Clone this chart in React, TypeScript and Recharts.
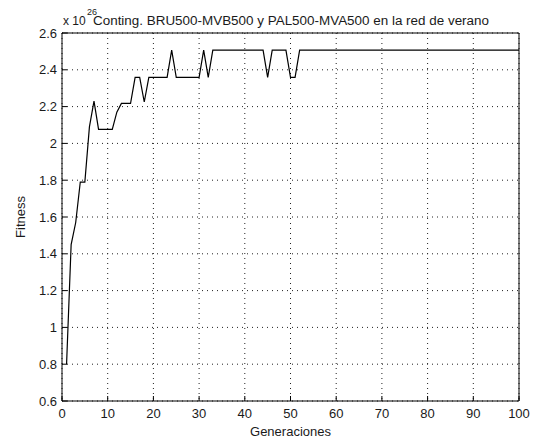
import React from 'react';
import { LineChart, Line, XAxis, YAxis, CartesianGrid } from 'recharts';

const generations = [
  1, 2, 3, 4, 5, 6, 7, 8, 9, 10,
  11, 12, 13, 14, 15, 16, 17, 18, 19, 20,
  21, 22, 23, 24, 25, 26, 27, 28, 29, 30,
  31, 32, 33, 34, 35, 36, 37, 38, 39, 40,
  41, 42, 43, 44, 45, 46, 47, 48, 49, 50,
  51, 52, 53, 54, 55, 56, 57, 58, 59, 60,
  61, 62, 63, 64, 65, 66, 67, 68, 69, 70,
  71, 72, 73, 74, 75, 76, 77, 78, 79, 80,
  81, 82, 83, 84, 85, 86, 87, 88, 89, 90,
  91, 92, 93, 94, 95, 96, 97, 98, 99, 100,
];

const fitness = [
  0.8, 1.45, 1.57, 1.79, 1.79, 2.09, 2.23, 2.076, 2.076, 2.076,
  2.076, 2.17, 2.217, 2.217, 2.217, 2.359, 2.359, 2.225, 2.359, 2.359,
  2.359, 2.359, 2.359, 2.507, 2.359, 2.359, 2.359, 2.359, 2.359, 2.359,
  2.507, 2.359, 2.507, 2.507, 2.507, 2.507, 2.507, 2.507, 2.507, 2.507,
  2.507, 2.507, 2.507, 2.507, 2.359, 2.507, 2.507, 2.507, 2.507, 2.359,
  2.359, 2.507, 2.507, 2.507, 2.507, 2.507, 2.507, 2.507, 2.507, 2.507,
  2.507, 2.507, 2.507, 2.507, 2.507, 2.507, 2.507, 2.507, 2.507, 2.507,
  2.507, 2.507, 2.507, 2.507, 2.507, 2.507, 2.507, 2.507, 2.507, 2.507,
  2.507, 2.507, 2.507, 2.507, 2.507, 2.507, 2.507, 2.507, 2.507, 2.507,
  2.507, 2.507, 2.507, 2.507, 2.507, 2.507, 2.507, 2.507, 2.507, 2.507,
];

const xTicks = [0, 10, 20, 30, 40, 50, 60, 70, 80, 90, 100];
const yTicks = [0.6, 0.8, 1, 1.2, 1.4, 1.6, 1.8, 2, 2.2, 2.4, 2.6];

const titleText = 'Conting. BRU500-MVB500 y PAL500-MVA500 en la red de verano';
const exponentBase = 'x 10';
const exponentText = '26';
const xLabel = 'Generaciones';
const yLabel = 'Fitness';

const data = generations.map((g, i) => ({ g, f: fitness[i] }));

const FONT = '"Liberation Sans", Arial, Helvetica, sans-serif';
const TXT = '#1a1a1a';

export default function App() {
  return (
    <div
      style={{
        position: 'absolute',
        left: 0,
        top: 0,
        width: 533,
        height: 438,
        background: '#fff',
        fontFamily: FONT,
      }}
    >
      <LineChart
        width={533}
        height={438}
        data={data}
        margin={{ top: 32, right: 13, bottom: 0, left: 0 }}
      >
        <CartesianGrid
          xAxisId="b"
          yAxisId="l"
          stroke="#222"
          strokeDasharray="1 4"
        />
        <XAxis
          xAxisId="b"
          dataKey="g"
          type="number"
          domain={[0, 100]}
          ticks={xTicks}
          interval={0}
          height={37}
          tickSize={-5}
          tickMargin={13}
          stroke="#000"
          tick={{ fill: TXT, fontSize: 13, fontFamily: FONT }}
        />
        <XAxis
          xAxisId="t"
          orientation="top"
          dataKey="g"
          type="number"
          domain={[0, 100]}
          ticks={xTicks}
          interval={0}
          height={1}
          tickSize={-5}
          stroke="#000"
          tick={false}
        />
        <YAxis
          yAxisId="l"
          type="number"
          domain={[0.6, 2.6]}
          ticks={yTicks}
          interval={0}
          width={62}
          tickSize={-5}
          tickMargin={10}
          stroke="#000"
          tick={{ fill: TXT, fontSize: 13, fontFamily: FONT }}
          tickFormatter={(v: number) => String(Math.round(v * 10) / 10)}
        />
        <YAxis
          yAxisId="r"
          orientation="right"
          type="number"
          domain={[0.6, 2.6]}
          ticks={yTicks}
          interval={0}
          width={1}
          tickSize={-5}
          stroke="#000"
          tick={false}
        />
        <Line
          xAxisId="b"
          yAxisId="l"
          type="linear"
          dataKey="f"
          stroke="#000"
          strokeWidth={1.2}
          dot={false}
          isAnimationActive={false}
        />
      </LineChart>
      <svg
        width={533}
        height={438}
        style={{ position: 'absolute', left: 0, top: 0, pointerEvents: 'none' }}
      >
        <text x={63} y={25} fontSize={12} fill={TXT} fontFamily={FONT}>
          {exponentBase}
        </text>
        <text x={87} y={15} fontSize={9} fill={TXT} fontFamily={FONT}>
          {exponentText}
        </text>
        <text
          x={291}
          y={25}
          fontSize={12}
          fill={TXT}
          fontFamily={FONT}
          textAnchor="middle"
          textLength={396}
          lengthAdjust="spacingAndGlyphs"
        >
          {titleText}
        </text>
        <text
          x={290.5}
          y={436}
          fontSize={13}
          fill={TXT}
          fontFamily={FONT}
          textAnchor="middle"
        >
          {xLabel}
        </text>
        <text
          x={0}
          y={0}
          fontSize={13}
          fill={TXT}
          fontFamily={FONT}
          textAnchor="middle"
          transform="translate(25 217) rotate(-90)"
        >
          {yLabel}
        </text>
      </svg>
    </div>
  );
}
